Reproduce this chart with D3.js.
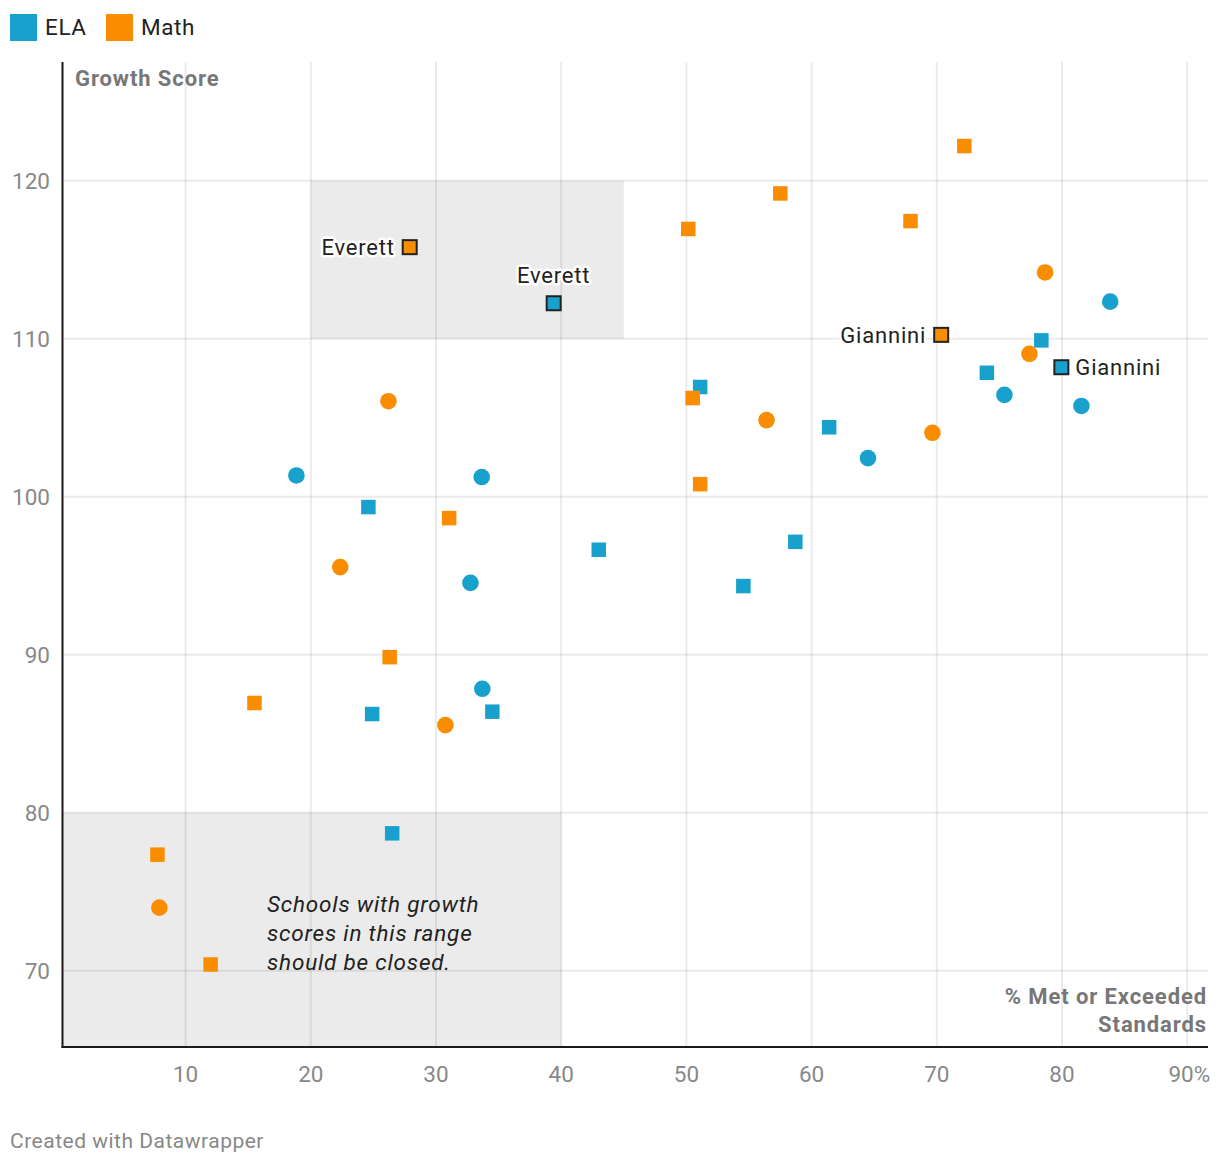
<!DOCTYPE html>
<html><head><meta charset="utf-8">
<script src="https://cdn.jsdelivr.net/npm/d3@7"></script>
<style>
body{margin:0;background:#fff;font-family:Roboto,"Noto Sans",sans-serif;}
svg text{font-family:Roboto,"Noto Sans",sans-serif;}
</style></head>
<body><svg id="c" width="1220" height="1166"></svg>
<script>
// ---- data ----
const subjects = ["ELA", "Math"];
const colors = ["#18a1cd", "#fa8c00"];
const xTicks = [10, 20, 30, 40, 50, 60, 70, 80, 90];
const yTicks = [70, 80, 90, 100, 110, 120];
const elaSquareX = [78.35, 74.0, 51.1, 61.4, 24.6, 43.0, 58.7, 54.55, 24.9, 34.5, 26.5];
const elaSquareY = [109.9, 107.85, 106.95, 104.4, 99.35, 96.65, 97.15, 94.35, 86.25, 86.4, 78.7];
const elaCircleX = [83.85, 75.4, 81.55, 64.5, 18.85, 33.65, 32.75, 33.7];
const elaCircleY = [112.35, 106.45, 105.75, 102.45, 101.35, 101.25, 94.55, 87.85];
const mathSquareX = [72.2, 57.5, 50.15, 67.9, 50.5, 51.1, 31.05, 26.3, 15.5, 7.75, 12.0];
const mathSquareY = [122.2, 119.2, 116.95, 117.45, 106.25, 100.8, 98.65, 89.85, 86.95, 77.35, 70.4];
const mathCircleX = [78.65, 77.4, 26.2, 56.4, 69.65, 22.35, 30.75, 7.9];
const mathCircleY = [114.2, 109.05, 106.05, 104.85, 104.05, 95.55, 85.55, 74.0];
const highlightNames = ["Everett", "Everett", "Giannini", "Giannini"];
const highlightSubjects = ["Math", "ELA", "Math", "ELA"];
const highlightX = [27.9, 39.4, 70.35, 79.95];
const highlightY = [115.8, 112.25, 110.25, 108.2];
const shadeX0 = [20, 0];
const shadeX1 = [45, 40];
const shadeY0 = [110, 60];
const shadeY1 = [120, 80];
const noteLines = ["Schools with growth", "scores in this range", "should be closed."];

// ---- layout ----
const svg = d3.select("#c");
const pL = 62.5, pR = 1208, pT = 62, pB = 1047;
const x = d3.scaleLinear().domain([0, 90]).range([60.4, 1187.2]);
const y = d3.scaleLinear().domain([70, 120]).range([970.8, 180.8]);
const color = d3.scaleOrdinal().domain(subjects).range(colors);

// legend
const leg = svg.append("g");
const legX = [10, 106];
subjects.forEach((s, i) => {
  leg.append("rect").attr("x", legX[i]).attr("y", 14).attr("width", 27).attr("height", 27).attr("fill", colors[i]);
  leg.append("text").attr("x", legX[i] + 35).attr("y", 35).attr("font-size", 22.5).attr("letter-spacing", 0.6)
    .attr("fill", "#222").text(s);
});

// shaded regions
svg.append("clipPath").attr("id", "pc").append("rect")
  .attr("x", pL).attr("y", pT).attr("width", pR - pL).attr("height", pB - pT);
const shades = svg.append("g").attr("clip-path", "url(#pc)");
shadeX0.forEach((_, i) => {
  const x0 = Math.max(x(shadeX0[i]), pL);
  shades.append("rect").attr("x", x0).attr("y", y(shadeY1[i]))
    .attr("width", x(shadeX1[i]) - x0).attr("height", Math.min(y(shadeY0[i]), pB) - y(shadeY1[i]))
    .attr("fill", "#ebebeb");
});

// grid
const grid = svg.append("g");
grid.selectAll("line.v").data(xTicks).join("line")
  .attr("x1", d => x(d)).attr("x2", d => x(d)).attr("y1", pT).attr("y2", pB)
  .attr("stroke", "#000").attr("stroke-opacity", 0.08).attr("stroke-width", 2);
grid.selectAll("line.h").data(yTicks).join("line")
  .attr("x1", pL).attr("x2", pR).attr("y1", d => y(d)).attr("y2", d => y(d))
  .attr("stroke", "#000").attr("stroke-opacity", 0.08).attr("stroke-width", 2);

// axes lines
svg.append("line").attr("x1", pL).attr("x2", pL).attr("y1", pT).attr("y2", pB + 1).attr("stroke", "#1a1a1a").attr("stroke-width", 2);
svg.append("line").attr("x1", pL - 1).attr("x2", pR).attr("y1", pB).attr("y2", pB).attr("stroke", "#1a1a1a").attr("stroke-width", 2);

// tick labels
svg.selectAll("text.yt").data(yTicks).join("text").attr("class", "yt")
  .attr("x", 50).attr("y", d => y(d) + 8).attr("text-anchor", "end")
  .attr("font-size", 22.5).attr("fill", "#888").text(d => d);
svg.selectAll("text.xt").data(xTicks).join("text").attr("class", "xt")
  .attr("x", d => d === 90 ? x(d) + 23 : x(d)).attr("y", 1082)
  .attr("text-anchor", d => d === 90 ? "end" : "middle")
  .attr("font-size", 22.5).attr("fill", "#888").text(d => d === 90 ? d + "%" : d);

// axis titles
svg.append("text").attr("x", 75).attr("y", 86).attr("font-size", 22).attr("letter-spacing", 0.9)
  .attr("font-weight", 700).attr("fill", "#777").text("Growth Score");
const xt = svg.append("text").attr("text-anchor", "end").attr("font-size", 22).attr("letter-spacing", 0.9)
  .attr("font-weight", 700).attr("fill", "#777");
xt.append("tspan").attr("x", 1207).attr("y", 1004).text("% Met or Exceeded");
xt.append("tspan").attr("x", 1207).attr("y", 1032).text("Standards");

// annotation
svg.append("g").selectAll("text").data(noteLines).join("text")
  .attr("x", 267).attr("y", (d, i) => 912 + i * 29).attr("font-size", 22.5).attr("letter-spacing", 0.8)
  .attr("font-style", "italic").attr("fill", "#222").text(d => d);

// points
const pts = svg.append("g");
const sq = 14.5, r = 8.3;
function squares(xs, ys, c) {
  pts.append("g").selectAll("rect").data(xs.map((v, i) => [v, ys[i]])).join("rect")
    .attr("x", d => x(d[0]) - sq / 2).attr("y", d => y(d[1]) - sq / 2)
    .attr("width", sq).attr("height", sq).attr("fill", c);
}
function circles(xs, ys, c) {
  pts.append("g").selectAll("circle").data(xs.map((v, i) => [v, ys[i]])).join("circle")
    .attr("cx", d => x(d[0])).attr("cy", d => y(d[1])).attr("r", r).attr("fill", c);
}
squares(elaSquareX, elaSquareY, color("ELA"));
circles(elaCircleX, elaCircleY, color("ELA"));
squares(mathSquareX, mathSquareY, color("Math"));
circles(mathCircleX, mathCircleY, color("Math"));

// highlighted points + labels
const hl = svg.append("g");
const labelPlacement = ["left", "top", "left", "right"];
highlightNames.forEach((n, i) => {
  const px = x(highlightX[i]), py = y(highlightY[i]);
  hl.append("rect").attr("x", px - 7).attr("y", py - 7).attr("width", 14).attr("height", 14)
    .attr("fill", color(highlightSubjects[i])).attr("stroke", "#222").attr("stroke-width", 2);
  const p = labelPlacement[i];
  const t = hl.append("text").attr("font-size", 22).attr("letter-spacing", 0.8).attr("fill", "#222")
    .attr("stroke", "#fff").attr("stroke-width", 5).attr("stroke-linejoin", "round")
    .attr("paint-order", "stroke").text(n);
  if (p === "left") t.attr("x", px - 15).attr("y", py + 8).attr("text-anchor", "end");
  else if (p === "right") t.attr("x", px + 14).attr("y", py + 8).attr("text-anchor", "start");
  else t.attr("x", px).attr("y", py - 20).attr("text-anchor", "middle");
});

// footer
svg.append("text").attr("x", 10).attr("y", 1148).attr("font-size", 21).attr("letter-spacing", 0.5)
  .attr("fill", "#888").text("Created with Datawrapper");
</script></body></html>
